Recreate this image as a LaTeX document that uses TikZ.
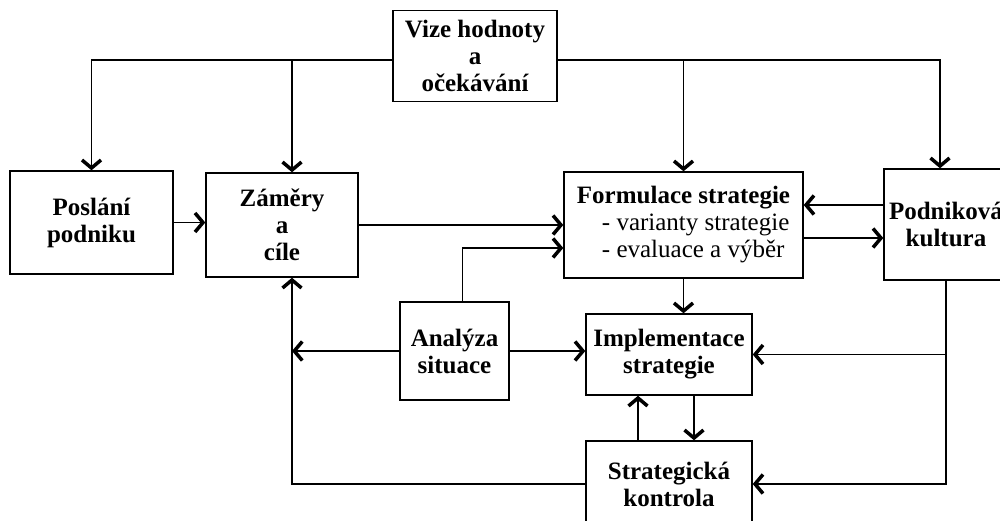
\documentclass[tikz,border=0pt]{standalone}
\usepackage{fontspec}
\setmainfont{Liberation Serif}
\usetikzlibrary{arrows.meta}
\begin{document}
\begin{tikzpicture}[x=1pt,y=-1pt,
  box/.style={draw, line width=1.4pt, align=center, inner sep=0pt, font=\fontsize{25}{27}\selectfont\bfseries},
  arr/.style={line width=1.4pt, -{Straight Barb[length=8pt,width=19pt,line width=3.5pt]}}]
\useasboundingbox (0,0) rectangle (1000,520);
\clip (0,0) rectangle (1000,520);
% boxes
\node[box, minimum width=164pt, minimum height=91pt] (vize) at (475,56) {Vize hodnoty\\a\\očekávání};
\node[box, minimum width=163pt, minimum height=103pt] (poslani) at (91.5,222.5) {Poslání\\podniku};
\node[box, minimum width=152pt, minimum height=104pt] (zamery) at (282,225) {Záměry\\a\\cíle};
\node[box, minimum width=239pt, minimum height=106pt, align=left] (formul) at (683.5,225) {Formulace strategie\\\hspace*{25pt}\mdseries - varianty strategie\\\hspace*{25pt}\mdseries - evaluace a výběr};
\node[box, minimum width=124pt, minimum height=111pt] (podnik) at (946,224.5) {Podniková\\kultura};
\node[box, minimum width=109pt, minimum height=98pt] (analyza) at (454.5,351) {Analýza\\situace};
\node[box, minimum width=166pt, minimum height=81pt] (impl) at (669,354.5) {Implementace\\strategie};
\node[box, minimum width=166pt, minimum height=86pt] (strat) at (669,484) {Strategická\\kontrola};
\coordinate (fb) at ([xshift=10pt]zamery.south);
% connectors from the top
\draw[arr] ([yshift=-4pt]vize.west) -| (poslani.north);
\draw[arr] ([yshift=-4pt]vize.west -| fb) -- (zamery.north -| fb);
\draw[arr] ([yshift=-4pt]vize.east) -| ([xshift=-6pt]podnik.north);
\draw[arr] ([yshift=-4pt]vize.east -| formul.north) -- (formul.north);
% middle row
\draw[arr] (poslani.east) -- (poslani.east -| zamery.west);
\draw[arr] (zamery.east) -- (zamery.east -| formul.west);
\draw[arr] ([xshift=8pt]analyza.north) |- ([yshift=-23pt]formul.west);
\draw[arr] ([yshift=19.5pt]podnik.west) -- ([yshift=19.5pt]podnik.west -| formul.east);
\draw[arr] ([yshift=-13pt]formul.east) -- ([yshift=-13pt]formul.east -| podnik.west);
\draw[arr] (formul.south) -- (formul.south |- impl.north);
% lower part
\draw[arr] (analyza.west) -- (analyza.west -| fb);
\draw[arr] (analyza.east) -- (analyza.east -| impl.west);
\draw[arr] (strat.west) -| (fb);
\draw[arr] (podnik.south) |- (strat.east);
\draw[arr] (podnik.south |- impl.east) -- (impl.east);
\draw[arr] ([xshift=-31pt]strat.north) -- ([xshift=-31pt]impl.south);
\draw[arr] ([xshift=25pt]impl.south) -- ([xshift=25pt]strat.north);
\end{tikzpicture}
\end{document}
